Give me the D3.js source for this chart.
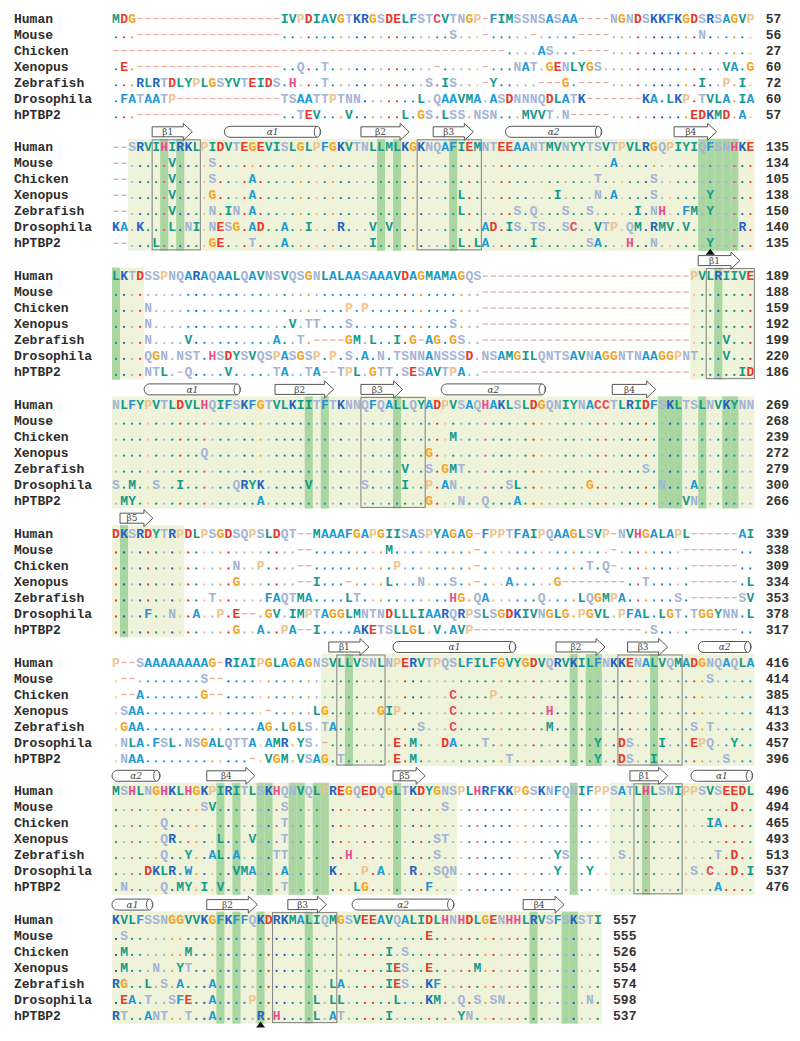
<!DOCTYPE html>
<html><head><meta charset="utf-8">
<script src="https://cdn.jsdelivr.net/npm/d3@7"></script>
<style>body{margin:0;background:#fff}</style>
</head><body>
<svg id="c" width="800" height="1041"></svg>
<script>
// ---------- DATA ----------
const species = ["Human","Mouse","Chicken","Xenopus","Zebrafish","Drosophila","hPTBP2"];
const blockLength = [80,80,80,80,80,80,80,61];

const humanSeq = [
  "MDG" + "-".repeat(18) + "IVPDIAVGTKRGSDELFSTCVTNGP-FIMSSNSASAA----NGNDSKKFKGDSRSAGVP",
  "--SRVIHIRKLPIDVTEGEVISLGLPFGKVTNLLMLKGKNQAFIEMNTEEAANTMVNYYTSVTPVLRGQPIYIQFSNHKE",
  "LKTDSSPNQARAQAALQAVNSVQSGNLALAASAAAVDAGMAMAGQS" + "-".repeat(26) + "PVLRIIVE",
  "NLFYPVTLDVLHQIFSKFGTVLKIITFTKNNQFQALLQYADPVSAQHAKLSLDGQNIYNACCTLRIDFSKLTSLNVKYNN",
  "DKSRDYTRPDLPSGDSQPSLDQT--MAAAFGAPGIISASPYAGAG-FPPTFAIPQAAGLSVP-NVHGALAPL------AI",
  "P--SAAAAAAAAG-RIAIPGLAGAGNSVLLVSNLNPERVTPQSLFILFGVYGDVQRVKILFNKKENALVQMADGNQAQLA",
  "MSHLNGHKLHGKPIRITLSKHQNVQLPREGQEDQGLTKDYGNSPLHRFKKPGSKNFQNIFPPSATLHLSNIPPSVSEEDL",
  "KVLFSSNGGVVKGFKFFQKDRKMALIQMGSVEEAVQALIDLHNHDLGENHHLRVSFSKSTI"
];
// differences from Human: "col:LETTERS" placed from col, "a-b:-" gap range, rest identical (.)
const mouseDiff = [
  "3-20:- 42:S 46:- 52:- 58-61:- 73:N",
  "0-1:- 7:V 12:S 62:A",
  "46-71:-",
  "",
  "23-24:- 34:M 45:- 62:- 71-77:-",
  "1-2:- 11:S 12-13:- 74:S",
  "11:SV 21:S 41:S 77:D",
  "1:S 39:E"
];
const chickenDiff = [
  "0-48:- 53:AS 58-61:-",
  "0-1:- 7:V 12:S 17:A 60:T 67:S",
  "4:N 29:P 31:P 46-71:-",
  "42:M",
  "15:N 18:P 23-24:- 35:P 45:- 59:T 61:Q 62:- 72-77:-",
  "1-2:- 3:A 11:G 12-13:- 42:C 47:P",
  "6:Q 21:T 74:IA",
  "1:M 9:M 34:I 36:S"
];
const xenopusDiff = [
  "1:E 3-20:- 23:Q 26:T 40:- 46:- 50:NAT 54:GENLYGS 76:VA 79:G",
  "0-1:- 7:V 12:G 17:A 43:L 55:I 60:N 62:A 67:S 74:Y",
  "4:N 22:V 24:TT 29:S 42:S 46-71:-",
  "11:Q 39:G",
  "15:G 23-24:- 25:I 29:- 34:L 38:N 42:S 45:- 49:A 55:G 56-63:- 66:T 72-77:- 79:L",
  "1:SAA 19:- 25:LG 33:GIP 42:C 54:H",
  "6:QR 13:L 17:V 21:T 40:ST",
  "1:M 5:N 8:YT 34:IES 39:E 45:M"
];
const zebrafishDiff = [
  "3:RLRTDLYPLGSYVTEIDS 22:H 26:T 39:S 41:IS 46:- 47:Y 53-55:- 56:G 58-61:- 73:I 76:P 78:I",
  "0-1:- 7:V 12:N 14:IN 17:A 43:L 50:S 52:Q 56:S 59:S 65:I 67:NH 71:FM 74:Y",
  "4:N 9:V 20:A 23:T 25-28:- 29:GM 32:L 35:I 37:G 38:- 39:AG 42:GS 46-71:- 76:V",
  "36:V 39:S 41:GMT 66:S",
  "12:T 19:F 20:AQTMA 29:LT 42:HG 45:QA 53:Q 58:LQGMPA 70:S 72-77:- 78:SV",
  "1:GAA 18:AG 21:LGLS 26:TA 38:S 42:C 54:M 72:S 74:T",
  "6:Q 9:Y 12:AL 15:A 20:TT 29:H 40:S 55:YS 63:S 75:T 77:D",
  "0:RG 4:L 6:S 8:A 12:A 27:LA 34:IES 39:KF"
];
const drosophilaDiff = [
  "1:FATAATP 8-20:- 21:TSAATTPTNN 38:L 40:QAAVMA 47:ASDNNNQDLATK 59-65:- 66:KA 69:LKP 73:TVLA 78:IA",
  "0:KA 3:K 7:L 9:NI 12:NESG 17:AD 21:A 24:I 28:R 32:V 34:V 46:AD 49:IS 52:TS 56:SC 60:VTP 64:QM 67:RMV 71:V 78:R",
  "4:QGN 8:NST 12:HSDYSVQSPASGSP 27:P 29:S 31:A 33:N 35:T 36:SNNANSSSD 46:NSAMGILQNTSAVNAGGNTNAAGGPNT 76:V",
  "0:S 2:M 5:S 8:I 15:QRY 18:K 24:V 31:S 36:I 39:P 41:AN 49:SL 59:G 68:N 72:A",
  "4:F 7:N 10:A 13:P 15:E 16-17:- 19:GV 22:IMPTAGGLMNTNDLLLIAARQRPSLSGDKIVNGLG 58:PGVL 63:PFAL 68:LGT 72:TGGYNN 79:L",
  "1:NLA 5:FSL 9:NSGALQTTA 19:AMR 23:YS 26:- 35:E 37:M 41:DA 46:T 60:Y 63:DS 68:I 72:EPQ 77:Y",
  "4:DKLR 9:W 15:VMA 21:A 27:K 31:P 33:A 37:R 40:SQN 55:Y 59:Y 72:S 74:C 77:D 79:I",
  "1:EA 4:T 7:SFE 12:A 17:P 25:L 27:LL 35:L 39:KM 43:Q 45:S 47:SN 59:N"
];
const ptbp2Diff = [
  "3-20:- 23:TEV 29:V 36:L 38:GS 41:LSS 45:NSN 51:MVVT 56:N 57-61:- 72:EDKMD 78:A",
  "0-1:- 5:L 12:GE 17:T 21:A 32:I 43:L 45:LA 52:I 59:SA 64:H 67:N 74:Y",
  "4:NTL 8:- 9:Q 14:V 20:TA 24:TA 26-27:- 28:TPL 32:GTT 36:SESAVTPA 46-71:- 78:ID",
  "1:MY 18:A 39:G 43:N 46:Q 50:A 71:VN",
  "15:G 18:A 21:PA 23-24:- 25:I 30:AKETSLLGL 40:V 42:AVP 45-65:- 67:S 72-77:-",
  "1:NAA 17:- 19:VGM 23:VSAG 28:T 35:E 37:M 49:T 60:Y 63:DS 67:I 76:S",
  "1:N 6:Q 8:MY 11:I 13:V 21:T 30:LG 39:F 75:A",
  "0:RT 4:ANT 9:T 12:A 18:R 20:H 25:L 27:AT 34:I 43:YN"
];
const endNumbers = [
  [57,56,27,60,72,60,57],
  [135,134,105,138,150,140,135],
  [189,188,159,192,199,220,186],
  [269,268,239,272,279,300,266],
  [339,338,309,334,353,378,317],
  [416,414,385,413,433,457,396],
  [496,494,465,493,513,537,476],
  [557,555,526,554,574,598,537]
];
// secondary structure: [kind, label, startCol, endCol]
const secondary = [
  [],
  [["b","β1",5,10],["a","α1",14,26],["b","β2",31,37],["b","β3",40,45],["a","α2",49,61],["b","β4",70,75.3]],
  [["b","β1",73,78.2]],
  [["a","α1",4,16],["b","β2",20.3,27.6],["b","β3",31,36.2],["a","α2",41,54],["b","β4",62.3,67.7]],
  [["b","β5",1,5.1]],
  [["b","β1",27,32],["a","α1",35,50.3],["b","β2",55.3,61.4],["b","β3",64.2,69.2],["a","α2",73,79.6]],
  [["a","α2",0,6],["b","β4",11.8,17.8],["b","β5",35,39],["b","β1",64.5,69.2],["a","α1",72.1,79.8]],
  [["a","α1",0,5.1],["b","β2",11.8,18.1],["b","β3",21.9,26.7],["a","α2",29.9,42.6],["b","β4",51.2,56.3]]
];
const lightShade = [[],[[2,79]],[[0,3],[72,79]],[[0,79]],[[0,8]],[[26,79]],[[0,42],[62,79]],[[0,60]]];
const darkColumns = [[],[6,8,33,35,42,73,74,75,76,77],[0,75],[24,26,35,68,69,70,73,76,77],[1],[29,57,59,60,67],[13,15,18,19,22,23,25,26,35,57,66],[13,15,18,24,52,56,57]];
const boxedColumns = [[],[[5,10],[38,45]],[[74,79]],[[31,38]],[],[[28,33],[63,70]],[[65,70]],[[20,27]]];
const markers = [[1,74],[7,18]]; // [block, column] triangles under hPTBP2

// ---------- HELPERS ----------
const aaColor = {K:'#2461c2',R:'#2461c2',D:'#e63a2c',E:'#e63a2c',G:'#f4a424',P:'#efc38e',
  S:'#a3b4d6',T:'#a3b4d6',N:'#a3b4d6',Q:'#a3b4d6',A:'#1d9ad5',I:'#14998a',L:'#14998a',
  V:'#14998a',M:'#14998a',F:'#2a8ecf',Y:'#12a08b',W:'#2a8ecf',H:'#e94f8f',C:'#e6485c'};
function expand(spec, len){
  const a = Array(len).fill('.');
  spec.split(/\s+/).filter(Boolean).forEach(tok=>{
    let m = tok.match(/^(\d+)-(\d+):(.)$/);
    if(m){ for(let i=+m[1];i<=+m[2];i++) a[i]=m[3]; return; }
    m = tok.match(/^(\d+):(.+)$/);
    if(m){ const s=+m[1]; for(let k=0;k<m[2].length;k++) if(s+k<len) a[s+k]=m[2][k]; }
  });
  return a.join('');
}
const diffs = [null, mouseDiff, chickenDiff, xenopusDiff, zebrafishDiff, drosophilaDiff, ptbp2Diff];

// ---------- DRAW ----------
const svg = d3.select('#c');
svg.append('rect').attr('width',800).attr('height',1041).attr('fill','#fff');
const x = d3.scaleLinear().domain([0,80]).range([112, 112+80*8.03]);
const cw = x(1)-x(0);
const blockY = d3.scaleLinear().domain([0,7]).range([18, 18+7*128.8]);
const rowY = d3.scaleLinear().domain([0,6]).range([0,96]);
const mono = "'Liberation Mono','DejaVu Sans Mono',monospace";

humanSeq.forEach((hs,b)=>{
  const len = blockLength[b];
  const y0 = blockY(b);
  const g = svg.append('g');
  const top = y0-8, bot = y0+rowY(6)+8;
  g.selectAll('rect.light').data(lightShade[b]).join('rect')
    .attr('x',d=>x(d[0])).attr('width',d=>x(d[1]+1)-x(d[0]))
    .attr('y',top).attr('height',bot-top).attr('fill','#eef3da');
  g.selectAll('rect.dark').data(darkColumns[b]).join('rect')
    .attr('x',d=>x(d)).attr('width',cw).attr('y',top).attr('height',bot-top).attr('fill','#a9d6a1');

  const human = (hs+'-'.repeat(len)).slice(0,len);
  const rows = species.map((s,r)=> r===0 ? human : expand(diffs[r][b], len));
  rows.forEach((seq,r)=>{
    const cy = y0+rowY(r);
    g.append('text').attr('x',14).attr('y',cy+4.5).attr('font-family',mono)
      .attr('font-weight','bold').attr('font-size',13).attr('fill','#2d2d2d').text(species[r]);
    const cells = seq.split('').map((ch,c)=>({ch,c}));
    g.selectAll(null).data(cells.filter(d=>d.ch==='-')).join('line')
      .attr('x1',d=>x(d.c)+1.5).attr('x2',d=>x(d.c)+cw-1.5).attr('y1',cy+0.5).attr('y2',cy+0.5)
      .attr('stroke','#e4ab9e').attr('stroke-width',1.3);
    g.selectAll(null).data(cells.filter(d=>d.ch==='.')).join('circle')
      .attr('cx',d=>x(d.c)+cw/2).attr('cy',cy+3.3).attr('r',1.15)
      .attr('fill',d=>aaColor[human[d.c]]||'#bbbbbb');
    g.selectAll(null).data(cells.filter(d=>d.ch!=='.'&&d.ch!=='-')).join('text')
      .attr('x',d=>x(d.c)+cw/2).attr('y',cy+4.5).attr('text-anchor','middle')
      .attr('font-family',mono).attr('font-weight','bold').attr('font-size',13)
      .attr('fill',d=>aaColor[d.ch]||'#555').text(d=>d.ch);
    g.append('text').attr('x',x(len+1.4)).attr('y',cy+4.5).attr('font-family',mono)
      .attr('font-weight','bold').attr('font-size',13).attr('fill','#333').text(endNumbers[b][r]);
  });
  g.selectAll('rect.box').data(boxedColumns[b]).join('rect')
    .attr('x',d=>x(d[0])).attr('width',d=>x(d[1]+1)-x(d[0]))
    .attr('y',y0-7).attr('height',rowY(6)+14).attr('fill','none').attr('stroke','#808080').attr('stroke-width',1);

  const sy = y0-15;
  secondary[b].forEach(([k,lab,c0,c1])=>{
    const x0=x(c0), x1=x(c1);
    if(k==='b'){
      const bh=10, hh=17, hl=9;
      g.append('path').attr('d',`M${x0},${sy-bh/2}L${x1-hl},${sy-bh/2}L${x1-hl},${sy-hh/2}L${x1},${sy}L${x1-hl},${sy+hh/2}L${x1-hl},${sy+bh/2}L${x0},${sy+bh/2}Z`)
        .attr('fill','#fff').attr('stroke','#555').attr('stroke-width',1);
      g.append('text').attr('x',(x0+x1-hl)/2).attr('y',sy+3.2).attr('text-anchor','middle')
        .attr('font-family',"'DejaVu Serif',serif").attr('font-size',9).attr('fill','#444').text(lab);
    } else {
      const h=11;
      g.append('rect').attr('x',x0).attr('y',sy-h/2).attr('width',x1-x0).attr('height',h)
        .attr('rx',h/2).attr('ry',h/2).attr('fill','#fff').attr('stroke','#555').attr('stroke-width',1);
      g.append('ellipse').attr('cx',x1-3.5).attr('cy',sy).attr('rx',3).attr('ry',h/2)
        .attr('fill','#fff').attr('stroke','#555').attr('stroke-width',1);
      g.append('text').attr('x',(x0+x1)/2).attr('y',sy+3.2).attr('text-anchor','middle')
        .attr('font-family',"'DejaVu Serif',serif").attr('font-style','italic').attr('font-size',9).attr('fill','#444').text(lab);
    }
  });
});
svg.selectAll('path.marker').data(markers).join('path')
  .attr('d',d=>{const cx=x(d[1])+cw/2, cy=blockY(d[0])+rowY(6)+6; return `M${cx},${cy}L${cx+4.5},${cy+6}L${cx-4.5},${cy+6}Z`;})
  .attr('fill','#111');
</script>
</body></html>
